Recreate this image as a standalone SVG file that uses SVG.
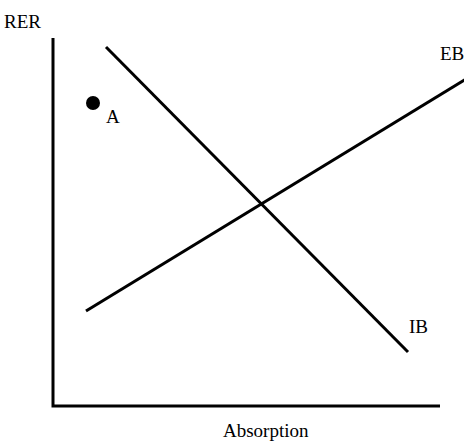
<svg xmlns="http://www.w3.org/2000/svg" width="464" height="441" viewBox="0 0 464 441">
<style>
.t{font-family:"Liberation Serif","Times New Roman",serif;font-size:19px;fill:#000}
.l{stroke:#000;stroke-width:3;fill:none}
</style>
<rect width="464" height="441" fill="#fff"/>
<g id="axes">
<path class="l" d="M53,38 V406 H440"/>
<text class="t" x="4" y="28">RER</text>
<text class="t" x="223" y="437">Absorption</text>
</g>
<g id="connectors">
<line id="IB-line" class="l" x1="106" y1="47" x2="408" y2="352"/>
<line id="EB-line" class="l" x1="86" y1="311" x2="466" y2="79"/>
</g>
<g id="IB"><text class="t" x="409" y="333">IB</text></g>
<g id="EB"><text class="t" x="440" y="60">EB</text></g>
<g id="A">
<circle cx="93" cy="103" r="7" fill="#000"/>
<text class="t" x="106" y="123">A</text>
</g>
</svg>
